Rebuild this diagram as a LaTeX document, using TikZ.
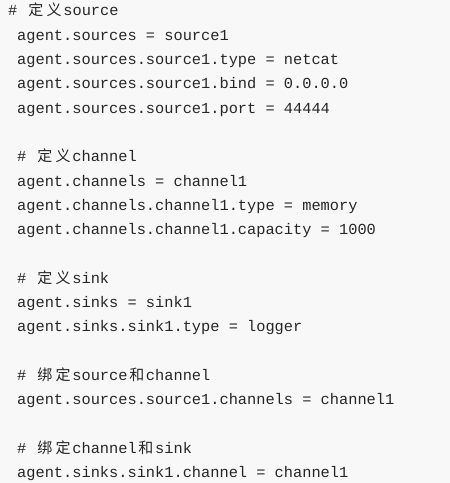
\documentclass[tikz,border=0pt]{standalone}
\usepackage{fontspec}
\setmonofont{Liberation Mono}
\newfontfamily\cjkfont{Noto Sans CJK SC}
\definecolor{codebg}{HTML}{F8F8F8}
\definecolor{codefg}{HTML}{262626}
\newcommand{\cjc}[1]{\makebox[18.4bp][c]{\cjkfont\fontsize{15bp}{18bp}\selectfont #1}}
\tikzset{
  codeline/.style={anchor=base west, inner sep=0pt, text=codefg,
    font=\ttfamily\fontsize{15.33bp}{18bp}\selectfont}
}
\begin{document}
\begin{tikzpicture}[x=1bp,y=-1bp]
\fill[codebg] (0,0) rectangle (450,483);
\useasboundingbox (0,0) rectangle (450,483);
\node[codeline] (l0) at (8,16) {\#~\cjc{定}\cjc{义}source};
\node[codeline] (l1) at (17,40.3) {agent.sources = source1};
\node[codeline] (l2) at (17,64.6) {agent.sources.source1.type = netcat};
\node[codeline] (l3) at (17,88.9) {agent.sources.source1.bind = 0.0.0.0};
\node[codeline] (l4) at (17,113.2) {agent.sources.source1.port = 44444};
\node[codeline] (l6) at (17,161.8) {\#~\cjc{定}\cjc{义}channel};
\node[codeline] (l7) at (17,186.1) {agent.channels = channel1};
\node[codeline] (l8) at (17,210.4) {agent.channels.channel1.type = memory};
\node[codeline] (l9) at (17,234.7) {agent.channels.channel1.capacity = 1000};
\node[codeline] (l11) at (17,283.3) {\#~\cjc{定}\cjc{义}sink};
\node[codeline] (l12) at (17,307.6) {agent.sinks = sink1};
\node[codeline] (l13) at (17,331.9) {agent.sinks.sink1.type = logger};
\node[codeline] (l15) at (17,380.5) {\#~\cjc{绑}\cjc{定}source\cjc{和}channel};
\node[codeline] (l16) at (17,404.8) {agent.sources.source1.channels = channel1};
\node[codeline] (l18) at (17,453.4) {\#~\cjc{绑}\cjc{定}channel\cjc{和}sink};
\node[codeline] (l19) at (17,477.7) {agent.sinks.sink1.channel = channel1};
\end{tikzpicture}
\end{document}
